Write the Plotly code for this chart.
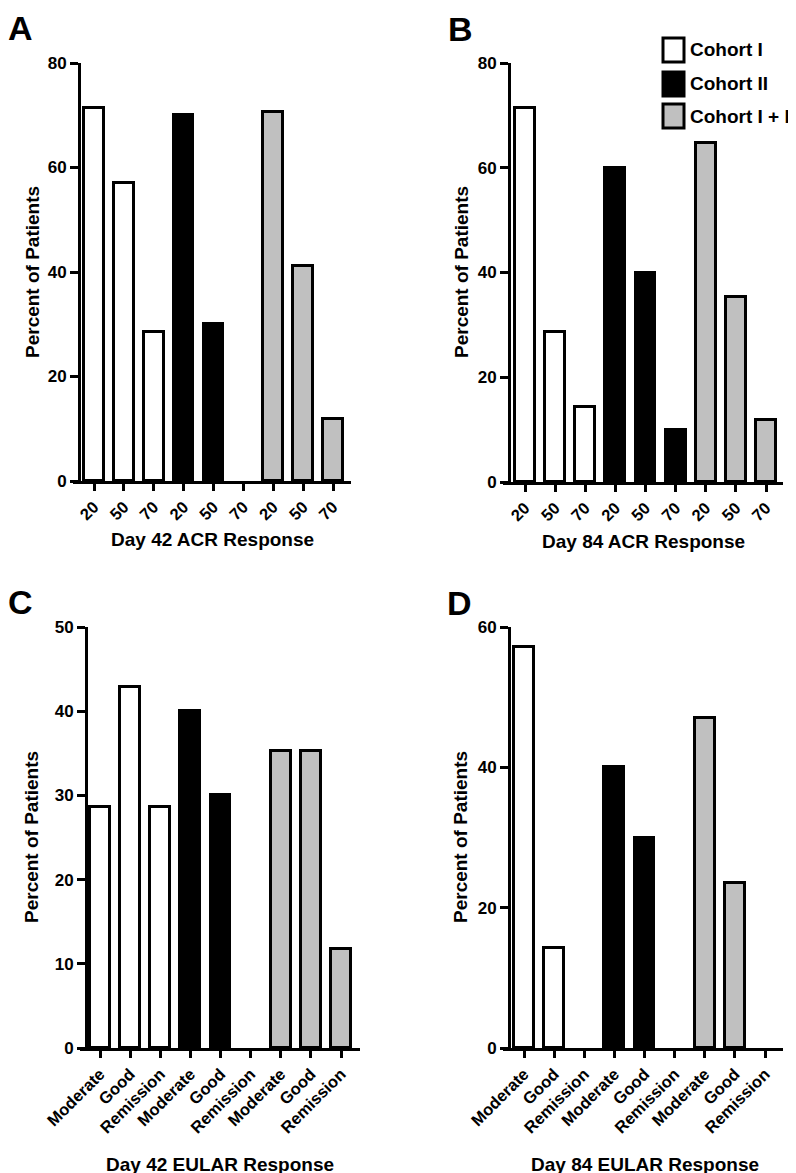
import plotly.graph_objects as go

# ---------------- data ----------------
cohorts = ["Cohort I", "Cohort II", "Cohort I + II"]
cohort_colors = ["#ffffff", "#000000", "#c0c0c0"]
acr_levels = ["20", "50", "70"]
eular_levels = ["Moderate", "Good", "Remission"]

acr42_c1 = [71.4, 57.1, 28.6]
acr42_c2 = [70.0, 30.0, 0.0]
acr42_c12 = [70.6, 41.2, 11.8]

acr84_c1 = [71.4, 28.6, 14.3]
acr84_c2 = [60.0, 40.0, 10.0]
acr84_c12 = [64.7, 35.3, 11.8]

eular42_c1 = [28.6, 42.9, 28.6]
eular42_c2 = [40.0, 30.0, 0.0]
eular42_c12 = [35.3, 35.3, 11.8]

eular84_c1 = [57.1, 14.3, 0.0]
eular84_c2 = [40.0, 30.0, 0.0]
eular84_c12 = [47.1, 23.5, 0.0]

panel_letters = ["A", "B", "C", "D"]
x_titles = ["Day 42 ACR Response", "Day 84 ACR Response",
            "Day 42 EULAR Response", "Day 84 EULAR Response"]
y_title = "Percent of Patients"
y_max = [80, 80, 50, 60]
y_dtick = [20, 20, 10, 20]

panel_series = [
    (acr_levels, [acr42_c1, acr42_c2, acr42_c12]),
    (acr_levels, [acr84_c1, acr84_c2, acr84_c12]),
    (eular_levels, [eular42_c1, eular42_c2, eular42_c12]),
    (eular_levels, [eular84_c1, eular84_c2, eular84_c12]),
]

# ---------------- layout geometry (pixels) ----------------
W, H = 796, 1173
FONT = "Liberation Sans, Arial, sans-serif"


def px_x(x):
    return x / W


def px_y(y):
    return 1 - y / H


# x0, x1 (x-axis line), y-axis x, first tick, last tick, top, bottom
geom = [
    (65, 343, 71, 86, 325, 55, 473),
    (495, 775, 501, 517, 758, 55, 474),
    (72, 352, 78, 92, 333, 619, 1040),
    (495, 775, 501, 516, 757, 619, 1040),
]
xtitle_pos = [(204, 531), (635, 533), (212, 1156), (637, 1156)]
ytitle_pos = [(24, 264), (453, 264), (23, 829), (452, 829)]
letter_pos = [(12, 20), (452, 21), (12, 594), (451, 595)]

fig = go.Figure()
layout = dict(
    template="none",
    width=W, height=H, autosize=False,
    margin=dict(l=0, r=0, t=0, b=0, pad=0),
    paper_bgcolor="white", plot_bgcolor="white",
    showlegend=False,
    bargap=0,
    font=dict(family=FONT, color="black"),
)
annotations = []
shapes = []

for p in range(4):
    n = "" if p == 0 else str(p + 1)
    levels, series = panel_series[p]
    x0, x1, yx, t0, tN, ytop, ybot = geom[p]
    ppc = (tN - t0) / 8.0
    rng = [-(t0 - x0) / ppc, 8 + (x1 - tN) / ppc]

    for k, vals in enumerate(series):
        xs = [3 * k + i for i in range(len(vals))]
        fig.add_trace(go.Bar(
            x=xs, y=vals, name=cohorts[k],
            xaxis="x" + n, yaxis="y" + n,
            width=0.66,
            marker=dict(color=cohort_colors[k],
                        line=dict(color="black",
                                  width=[3 if v > 0 else 0 for v in vals])),
            showlegend=False,
        ))

    layout["xaxis" + n] = dict(
        domain=[px_x(x0), px_x(x1)], range=rng, anchor="y" + n,
        automargin=False,
        tickmode="array", tickvals=list(range(9)), ticktext=levels * 3,
        tickangle=-45, ticks="outside", ticklen=7, tickwidth=3,
        tickcolor="black", showline=True, linewidth=3, linecolor="black",
        showgrid=False, zeroline=False, fixedrange=True,
        tickfont=dict(family=FONT, size=16.5, color="black", weight="bold"),
    )
    layout["yaxis" + n] = dict(
        domain=[px_y(ybot), px_y(ytop)], range=[0, y_max[p]],
        anchor="free", position=px_x(yx), automargin=False,
        tickmode="linear", tick0=0, dtick=y_dtick[p],
        ticks="outside", ticklen=8, tickwidth=3, tickcolor="black",
        showline=True, linewidth=3, linecolor="black",
        showgrid=False, zeroline=False, fixedrange=True,
        tickfont=dict(family=FONT, size=17, color="black", weight="bold"),
    )

    annotations.append(dict(
        text=x_titles[p], xref="paper", yref="paper",
        x=px_x(xtitle_pos[p][0]), y=px_y(xtitle_pos[p][1]),
        xanchor="center", yanchor="middle", showarrow=False,
        font=dict(family=FONT, size=19, color="black", weight="bold"),
    ))
    annotations.append(dict(
        text=y_title, xref="paper", yref="paper",
        x=px_x(ytitle_pos[p][0]), y=px_y(ytitle_pos[p][1]),
        xanchor="center", yanchor="middle", showarrow=False, textangle=-90,
        font=dict(family=FONT, size=19, color="black", weight="bold"),
    ))
    annotations.append(dict(
        text=panel_letters[p], xref="paper", yref="paper",
        x=px_x(letter_pos[p][0]), y=px_y(letter_pos[p][1]),
        xanchor="center", yanchor="middle", showarrow=False,
        font=dict(family=FONT, size=34, color="black", weight="bold"),
    ))

# ---------------- legend (panel B) ----------------
leg_box_x = (655, 676)
leg_rows = [(30, 54), (64, 88), (96, 120)]
for k, name in enumerate(cohorts):
    ya, yb = leg_rows[k]
    shapes.append(dict(
        type="rect", xref="paper", yref="paper",
        x0=px_x(leg_box_x[0]), x1=px_x(leg_box_x[1]),
        y0=px_y(yb), y1=px_y(ya),
        fillcolor=cohort_colors[k], line=dict(color="black", width=3),
    ))
    annotations.append(dict(
        text=name, xref="paper", yref="paper",
        x=px_x(680), y=px_y((ya + yb) / 2),
        xanchor="left", yanchor="middle", showarrow=False,
        font=dict(family=FONT, size=19, color="black", weight="bold"),
    ))

layout["annotations"] = annotations
layout["shapes"] = shapes
fig.update_layout(**layout)
fig.write_html("out.html")
